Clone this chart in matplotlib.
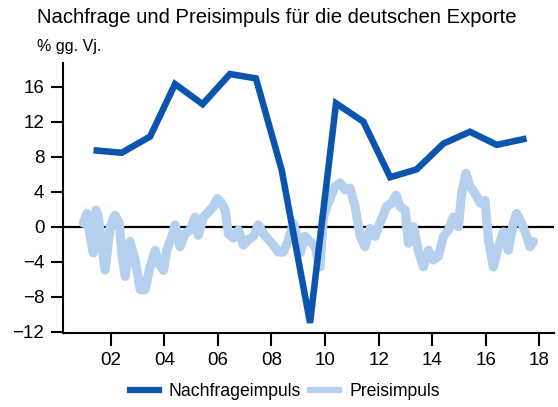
import matplotlib
matplotlib.use("Agg")
import matplotlib.pyplot as plt
from matplotlib.lines import Line2D

plt.rcParams['font.family'] = ['Liberation Sans', 'DejaVu Sans']

# Nachfrageimpuls (jaehrliche Punkte), % gg. Vj.
nachfrage_x = [2001.48, 2002.41, 2003.47, 2004.40, 2005.43, 2006.45, 2007.42, 2008.38,
               2009.44, 2010.41, 2011.43, 2012.43, 2013.42, 2014.42, 2015.41, 2016.41, 2017.40]
nachfrage_y = [8.7, 8.45, 10.3, 16.3, 14.0, 17.45, 16.95, 6.5,
               -11.0, 14.1, 12.0, 5.65, 6.55, 9.5, 10.85, 9.35, 10.0]

# Preisimpuls, % gg. Vj.
preis_x = [2000.98, 2001.11, 2001.23, 2001.35, 2001.45, 2001.54, 2001.67, 2001.79, 2001.98,
           2002.16, 2002.32, 2002.41, 2002.54, 2002.72, 2002.91, 2003.10, 2003.28, 2003.47,
           2003.66, 2003.78, 2003.97, 2004.09, 2004.28, 2004.40, 2004.59, 2004.78, 2004.96,
           2005.15, 2005.27, 2005.46, 2005.65, 2005.83, 2005.98, 2006.14, 2006.27, 2006.39,
           2006.58, 2006.77, 2006.95, 2007.14, 2007.33, 2007.51, 2007.70, 2007.89, 2008.07,
           2008.26, 2008.45, 2008.63, 2008.82, 2008.94, 2009.07, 2009.25, 2009.44, 2009.63,
           2009.81, 2009.94, 2010.12, 2010.37, 2010.56, 2010.75, 2010.93, 2011.12, 2011.31,
           2011.49, 2011.68, 2011.87, 2012.05, 2012.30, 2012.49, 2012.65, 2012.80, 2012.99,
           2013.11, 2013.30, 2013.48, 2013.67, 2013.86, 2014.04, 2014.23, 2014.42, 2014.60,
           2014.79, 2014.98, 2015.10, 2015.26, 2015.41, 2015.60, 2015.79, 2015.97, 2016.10,
           2016.28, 2016.47, 2016.66, 2016.84, 2017.03, 2017.15, 2017.34, 2017.53, 2017.65,
           2017.78]
preis_y = [0.4, 1.5, -1.1, -3.0, 1.9, 1.1, -2.3, -4.95, 0.0,
           1.3, 0.4, -3.0, -5.7, -1.7, -3.8, -7.2, -7.2, -4.6,
           -2.7, -4.2, -5.0, -2.7, -1.1, 0.2, -2.3, -0.8, -0.4,
           1.1, -1.0, 1.1, 1.7, 2.3, 3.2, 2.7, 1.9, -0.8,
           -1.3, -0.4, -2.1, -1.5, -1.1, 0.2, -0.8, -1.5, -2.1,
           -2.9, -2.9, -1.5, 0.4, -1.1, -3.0, -1.1, -1.7, -2.3,
           -4.6, 1.1, 2.7, 4.6, 5.0, 4.2, 4.4, 2.3, -1.1,
           -2.3, -0.2, -1.1, 0.4, 2.3, 2.7, 3.6, 2.3, 1.9,
           -1.9, 0.0, -2.7, -4.6, -2.7, -3.8, -3.4, -1.1, -0.4,
           1.1, 0.0, 3.8, 6.1, 4.6, 3.8, 2.7, 3.0, -1.5,
           -4.6, -2.3, -0.6, -2.7, 0.4, 1.5, 0.4, -1.1, -2.3,
           -1.7]

year_ticks = [2002, 2004, 2006, 2008, 2010, 2012, 2014, 2016, 2018]
year_labels = ['02', '04', '06', '08', '10', '12', '14', '16', '18']
y_ticks = [-12, -8, -4, 0, 4, 8, 12, 16]

dark_blue = '#0b55ae'
light_blue = '#b5d0ef'

fig = plt.figure(figsize=(5.58, 4.07), dpi=100)
ax = fig.add_axes([0.113, 0.182, 0.880, 0.663])

ax.axhline(0, color='black', lw=1.6, zorder=1)
ax.plot(preis_x, preis_y, color=light_blue, lw=6.6, solid_joinstyle='round',
        solid_capstyle='round', zorder=2)
ax.plot(nachfrage_x, nachfrage_y, color=dark_blue, lw=4.7, solid_joinstyle='miter',
        zorder=3)

ax.set_xlim(2000.22, 2018.55)
ax.set_ylim(-12.15, 18.7)
ax.set_xticks(year_ticks)
ax.set_xticklabels(year_labels)
ax.set_yticks(y_ticks)

for side in ['top', 'right']:
    ax.spines[side].set_visible(False)
for side in ['left', 'bottom']:
    ax.spines[side].set_linewidth(1.5)
ax.tick_params(axis='both', direction='out', length=9, width=1.5, labelsize=13.5, pad=4.5)

fig.text(0.066, 0.957, 'Nachfrage und Preisimpuls für die deutschen Exporte',
         fontsize=14.6, va='center', ha='left')
fig.text(0.066, 0.885, '% gg. Vj.', fontsize=11.5, va='center', ha='left')

handles = [Line2D([], [], color=dark_blue, lw=4.5),
           Line2D([], [], color=light_blue, lw=4.5)]
fig.legend(handles, ['Nachfrageimpuls', 'Preisimpuls'], loc='center',
           bbox_to_anchor=(0.51, 0.037), ncol=2, frameon=False, fontsize=12.7,
           handlelength=1.65, handletextpad=0.55, columnspacing=0.55)

fig.savefig('out.png', dpi=100)
